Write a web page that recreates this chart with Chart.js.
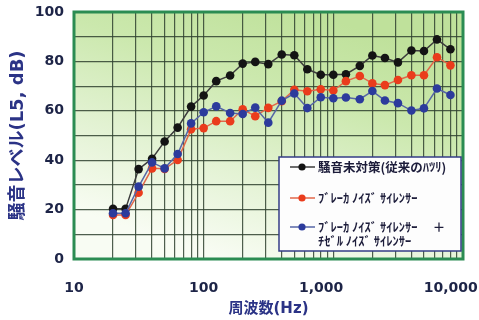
<!DOCTYPE html>
<html>
<head>
<meta charset="utf-8">
<script src="https://cdn.jsdelivr.net/npm/chart.js@4/dist/chart.umd.min.js"></script>
<style>
  html, body { margin: 0; padding: 0; background: #ffffff; }
  canvas { display: block; }
</style>
</head>
<body>
<canvas id="chart" width="479" height="320"></canvas>
<script>
// 1/3-octave band centre frequencies (Hz)
const frequencies = [20, 25, 31.5, 40, 50, 63, 80, 100, 125, 160, 200, 250, 315, 400, 500,
  630, 800, 1000, 1250, 1600, 2000, 2500, 3150, 4000, 5000, 6300, 8000];

// L5 noise levels (dB) per band
const untreated = [20.3, 20.3, 36.4, 40.6, 47.6, 53.2, 61.7, 66.2, 72.0, 74.3, 79.1, 79.8, 78.9, 82.8, 82.5,
  76.8, 74.6, 74.6, 74.8, 78.2, 82.4, 81.4, 79.6, 84.4, 84.2, 88.9, 84.9];
const breakerSilencer = [17.8, 17.8, 26.8, 36.7, 36.5, 40.1, 52.5, 53.0, 55.8, 55.8, 60.6, 57.8, 61.2, 63.9, 68.5,
  67.9, 68.7, 68.2, 72.0, 74.1, 71.1, 70.4, 72.5, 74.4, 74.4, 81.7, 78.4];
const breakerChiselSilencer = [18.5, 18.5, 29.3, 39.1, 36.7, 42.5, 54.9, 59.4, 61.8, 59.1, 58.7, 61.3, 55.2, 64.1, 67.0,
  61.1, 65.5, 65.1, 65.4, 64.7, 68.0, 64.2, 63.1, 60.1, 61.0, 69.0, 66.4];

const seriesNames = [
  ["騒音未対策(従来のﾊﾂﾘ)"],
  ["ﾌﾞﾚｰｶ ﾉｲｽﾞ ｻｲﾚﾝｻｰ"],
  ["ﾌﾞﾚｰｶ ﾉｲｽﾞ ｻｲﾚﾝｻｰ　 ＋", "ﾁｾﾞﾙ ﾉｲｽﾞ ｻｲﾚﾝｻｰ"]
];

// Labelled decades on the frequency axis (trailing no-break spaces nudge the wide labels left)
const xTickLabels = { 10: "10", 100: "100", 1000: "1,000\u00a0\u00a0\u00a0\u00a0\u00a0", 10000: "10,000\u00a0\u00a0\u00a0\u00a0\u00a0" };
const yTickLabels = [0, 20, 40, 60, 80, 100];
const xTitle = "周波数(Hz)";
const yTitle = "騒音レベル(L5, dB)";

const latinFirst = "'DejaVu Sans', 'Noto Sans CJK JP', sans-serif";
const navy = '#1d2447';
const titleBlue = '#2b3386';
const gridColor = 'rgba(48, 66, 48, 0.85)';

function toPoints(values) {
  return frequencies.map((f, i) => ({ x: f, y: values[i] }));
}

// Log grid: 1..9 within each decade from 10 Hz to 10 kHz
const logGrid = [];
for (let d = 10; d < 10000; d *= 10) {
  for (let m = 1; m <= 9; m++) logGrid.push(d * m);
}
logGrid.push(10000);

const plotBackground = {
  id: 'plotBackground',
  beforeDraw(chart) {
    const { ctx, chartArea: a } = chart;
    const g = ctx.createLinearGradient(a.left + a.width * 0.6, a.top, a.left + a.width * 0.4, a.bottom);
    g.addColorStop(0, '#bfe19b');
    g.addColorStop(0.3, '#cbe8ad');
    g.addColorStop(0.65, '#e2f2d2');
    g.addColorStop(1, '#f8fcf3');
    ctx.save();
    ctx.fillStyle = g;
    ctx.fillRect(a.left, a.top, a.width, a.height);
    ctx.restore();
  }
};

const plotFrame = {
  id: 'plotFrame',
  beforeDatasetsDraw(chart) {
    const { ctx, chartArea: a } = chart;
    ctx.save();
    ctx.strokeStyle = '#2b8c52';
    ctx.lineWidth = 3;
    ctx.strokeRect(a.left, a.top, a.width, a.height);
    ctx.restore();
  }
};

// Boxed legend placed in the lower right of the plot
const boxedLegend = {
  id: 'boxedLegend',
  afterDraw(chart) {
    const { ctx, chartArea: a } = chart;
    const left = a.right - 184, top = a.top + 145;
    const right = a.right - 2, bottom = a.bottom - 8;
    ctx.save();
    ctx.fillStyle = '#fdfdfd';
    ctx.fillRect(left, top, right - left, bottom - top);
    ctx.strokeStyle = '#343c86';
    ctx.lineWidth = 1.5;
    ctx.strokeRect(left, top, right - left, bottom - top);

    const rows = [10, 41, 70];
    ctx.font = "bold 12.5px 'Noto Sans CJK JP', sans-serif";
    ctx.textBaseline = 'middle';
    ctx.textAlign = 'left';
    chart.data.datasets.forEach((ds, i) => {
      const y = top + rows[i];
      ctx.strokeStyle = ds.borderColor;
      ctx.lineWidth = 1.5;
      ctx.beginPath();
      ctx.moveTo(left + 11, y);
      ctx.lineTo(left + 36, y);
      ctx.stroke();
      ctx.fillStyle = ds.pointBackgroundColor;
      ctx.beginPath();
      ctx.arc(left + 23, y, 3.6, 0, Math.PI * 2);
      ctx.fill();
      ctx.fillStyle = '#1c1c3a';
      const lines = Array.isArray(ds.label) ? ds.label : [ds.label];
      lines.forEach((t, k) => ctx.fillText(t, left + 39, y + k * 14));
    });
    ctx.restore();
  }
};

new Chart(document.getElementById('chart'), {
  type: 'line',
  data: {
    datasets: [
      {
        label: seriesNames[0], data: toPoints(untreated), order: 3,
        borderColor: '#3c3c3c', pointBackgroundColor: '#141414'
      },
      {
        label: seriesNames[1], data: toPoints(breakerSilencer), order: 2,
        borderColor: '#e2674a', pointBackgroundColor: '#ea3c1c'
      },
      {
        label: seriesNames[2], data: toPoints(breakerChiselSilencer), order: 1,
        borderColor: '#5666a6', pointBackgroundColor: '#2c3b9c'
      }
    ].map(ds => Object.assign(ds, {
      borderWidth: 1.5, pointRadius: 4.3, pointHoverRadius: 4.3,
      pointBorderWidth: 0, tension: 0, fill: false
    }))
  },
  options: {
    responsive: false,
    animation: false,
    devicePixelRatio: 1,
    layout: { padding: { left: 4, top: 12, right: 16, bottom: 0 } },
    plugins: { legend: { display: false }, tooltip: { enabled: false } },
    scales: {
      x: {
        type: 'logarithmic',
        min: 10,
        max: 10000,
        afterBuildTicks(scale) { scale.ticks = logGrid.map(v => ({ value: v })); },
        afterFit(scale) { scale.height = 61; scale.paddingRight = 0; scale.paddingLeft = 0; },
        ticks: {
          autoSkip: false, maxRotation: 0, minRotation: 0, padding: 21,
          color: navy, font: { family: latinFirst, size: 14, weight: 'bold' },
          callback: (v) => xTickLabels[v] || ''
        },
        grid: { color: gridColor, lineWidth: 1.2, drawTicks: false },
        border: { display: false },
        title: {
          display: true, text: xTitle, color: titleBlue,
          font: { family: latinFirst, size: 15, weight: 'bold' },
          padding: { top: 3, bottom: 2 }
        }
      },
      y: {
        min: 0,
        max: 100,
        afterFit(scale) { scale.width = 70; scale.paddingTop = 0; scale.paddingBottom = 0; },
        ticks: {
          stepSize: 10, padding: 10,
          color: navy, font: { family: latinFirst, size: 14, weight: 'bold' },
          callback: (v) => yTickLabels.includes(v) ? String(v) : ''
        },
        grid: { color: gridColor, lineWidth: 1.2, drawTicks: false },
        border: { display: false },
        title: {
          display: true, text: yTitle, color: titleBlue,
          font: { family: latinFirst, size: 18, weight: 'bold' },
          padding: { top: 4, bottom: 5 }
        }
      }
    }
  },
  plugins: [plotBackground, plotFrame, boxedLegend]
});
</script>
</body>
</html>
